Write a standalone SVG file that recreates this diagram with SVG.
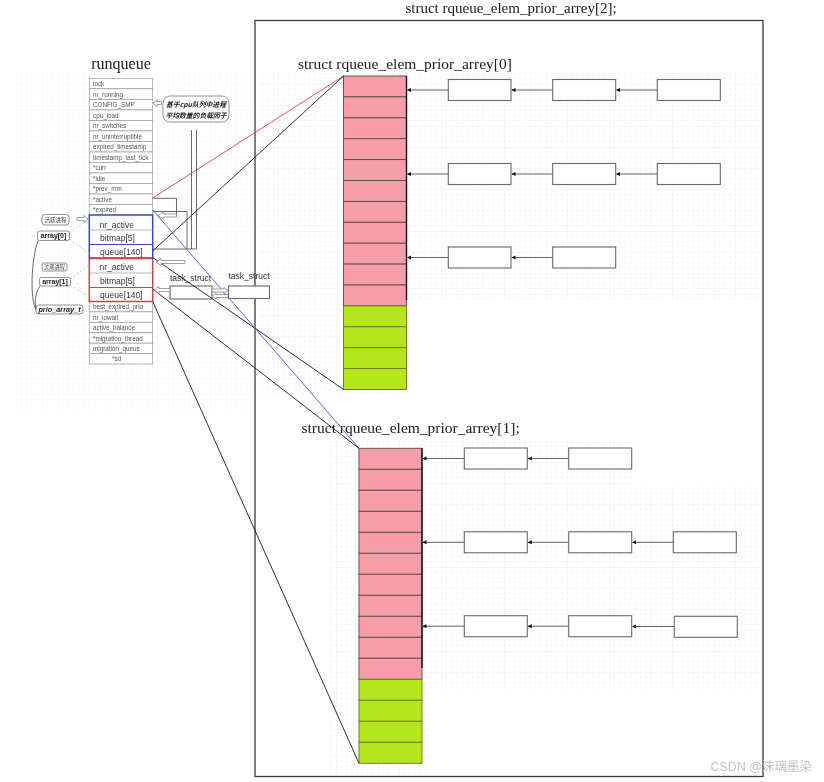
<svg xmlns="http://www.w3.org/2000/svg" width="824" height="782" viewBox="0 0 824 782">
<style>
.serif{font-family:"Liberation Serif","DejaVu Serif",serif;fill:#1a1a1a}
.row{font-family:"Liberation Sans",Arial,sans-serif;font-size:6.3px;fill:#555}
.big{font-family:"Liberation Sans",Arial,sans-serif;font-size:8.5px;fill:#333}
.cell{fill:#fff;stroke:#999;stroke-width:0.7}
.pink{fill:#f59ea8;stroke:#5a4a4c;stroke-width:0.9}
.green{fill:#b5e61d;stroke:#66781a;stroke-width:0.9}
.node{fill:#fff;stroke:#6a6a6a;stroke-width:1.1}
.chain{stroke:#555;stroke-width:0.9;fill:none;marker-end:url(#ah)}
.hollow{fill:#fff;stroke:#777;stroke-width:0.7}
.cjk{font-family:"Noto Sans CJK SC","Noto Sans",sans-serif}
.lbl{fill:#fff;stroke:#777;stroke-width:0.8}
.plain{stroke:#444;stroke-width:0.8;fill:none}
.dash{stroke:#aaa;stroke-width:0.6;fill:none;stroke-dasharray:2 2}
</style>
<defs>
<marker id="ah" viewBox="0 0 6 6" refX="5.5" refY="3" markerWidth="4.5" markerHeight="4.5" orient="auto">
<path d="M0,0 L6,3 L0,6 z" fill="#111"/>
</marker>
<pattern id="grid" width="21" height="21" patternUnits="userSpaceOnUse">
<path d="M0 0H21M0 0V21" stroke="#e2e2e2" stroke-width="0.7" fill="none"/>
<path d="M0 5.25H21M0 10.5H21M0 15.75H21M5.25 0V21M10.5 0V21M15.75 0V21" stroke="#f1f1f1" stroke-width="0.5" fill="none"/>
</pattern>
</defs>
<rect width="824" height="782" fill="#fff"/>
<!-- faint grid backgrounds -->
<g id="grid-bg" opacity="0.8">
<rect x="15" y="72" width="235" height="338" fill="url(#grid)" opacity="0.6"/>
<rect x="258" y="72" width="506" height="228" fill="url(#grid)"/>
<rect x="258" y="300" width="150" height="95" fill="url(#grid)"/>
<rect x="330" y="440" width="302" height="46" fill="url(#grid)"/>
<rect x="330" y="486" width="434" height="204" fill="url(#grid)"/>
<rect x="330" y="690" width="100" height="86" fill="url(#grid)"/>
</g>

<!-- main frame -->
<g id="frame">
<rect x="255" y="20.5" width="508" height="756" fill="none" stroke="#3a3a3a" stroke-width="1.3"/>
<text class="serif" x="511" y="13" font-size="15" text-anchor="middle">struct rqueue_elem_prior_arrey[2];</text>
</g>

<!-- runqueue -->
<g id="runqueue">
<text class="serif" x="121" y="68.5" font-size="16" text-anchor="middle">runqueue</text>
<rect class="cell" x="89.3" y="78.3" width="63.4" height="10.5"/>
<rect class="cell" x="89.3" y="88.8" width="63.4" height="10.5"/>
<rect class="cell" x="89.3" y="99.3" width="63.4" height="10.6"/>
<rect class="cell" x="89.3" y="109.9" width="63.4" height="10.5"/>
<rect class="cell" x="89.3" y="120.4" width="63.4" height="10.5"/>
<rect class="cell" x="89.3" y="130.9" width="63.4" height="10.5"/>
<rect class="cell" x="89.3" y="141.4" width="63.4" height="10.6"/>
<rect class="cell" x="89.3" y="152.0" width="63.4" height="10.5"/>
<rect class="cell" x="89.3" y="162.5" width="63.4" height="10.5"/>
<rect class="cell" x="89.3" y="173.0" width="63.4" height="10.5"/>
<rect class="cell" x="89.3" y="183.5" width="63.4" height="10.5"/>
<rect class="cell" x="89.3" y="194.0" width="63.4" height="10.5"/>
<rect class="cell" x="89.3" y="204.5" width="63.4" height="10.5"/>
<text class="row" x="93" y="86">lock</text>
<text class="row" x="93" y="96.5">nr_running</text>
<text class="row" x="93" y="107">CONFIG_SMP</text>
<text class="row" x="93" y="117.5">cpu_load</text>
<text class="row" x="93" y="128">nr_switches</text>
<text class="row" x="93" y="138.5">nr_uninterruptible</text>
<text class="row" x="93" y="149">expired_timestamp</text>
<text class="row" x="93" y="159.5">timestamp_last_tick</text>
<text class="row" x="93" y="170">*curr</text>
<text class="row" x="93" y="180.5">*idle</text>
<text class="row" x="93" y="191">*prev_mm</text>
<text class="row" x="93" y="201.5">*active</text>
<text class="row" x="93" y="212">*expired</text>
<!-- bottom rows -->
<rect class="cell" x="89.3" y="301.5" width="63.4" height="10.4"/>
<rect class="cell" x="89.3" y="311.9" width="63.4" height="10.4"/>
<rect class="cell" x="89.3" y="322.3" width="63.4" height="10.5"/>
<rect class="cell" x="89.3" y="332.8" width="63.4" height="10.4"/>
<rect class="cell" x="89.3" y="343.2" width="63.4" height="10.4"/>
<rect class="cell" x="89.3" y="353.6" width="63.4" height="10.4"/>
<text class="row" x="93" y="309.3">best_expired_prio</text>
<text class="row" x="93" y="319.7">nr_iowait</text>
<text class="row" x="93" y="330.2">active_balance</text>
<text class="row" x="93" y="340.6">*migration_thread</text>
<text class="row" x="93" y="351">migration_queue</text>
<text class="row" x="112" y="361.4">*sd</text>
</g>

<g id="array0-struct">
<rect x="89.3" y="215" width="63.4" height="43" fill="#fff" stroke="#3a48c8" stroke-width="1.5"/>
<line x1="89.3" y1="230" x2="152.7" y2="230" stroke="#999" stroke-width="0.7"/>
<line x1="89.3" y1="244.5" x2="152.7" y2="244.5" stroke="#3a48c8" stroke-width="1"/>
<text class="big" x="99.5" y="227.5">nr_active</text>
<text class="big" x="100" y="241">bitmap[5]</text>
<text class="big" x="100" y="254.5">queue[140]</text>
</g>
<g id="array1-struct">
<rect x="89.3" y="258.5" width="63.4" height="43" fill="#fff" stroke="#c04848" stroke-width="1.5"/>
<line x1="89.3" y1="273" x2="152.7" y2="273" stroke="#999" stroke-width="0.7"/>
<line x1="89.3" y1="287.5" x2="152.7" y2="287.5" stroke="#c04848" stroke-width="1"/>
<text class="big" x="99.5" y="270">nr_active</text>
<text class="big" x="100" y="284">bitmap[5]</text>
<text class="big" x="100" y="297.5">queue[140]</text>
</g>

<!-- callout -->
<g id="callout">
<rect class="lbl" x="163" y="96" width="66" height="26" rx="7"/>
<text class="cjk" x="196" y="106.5" font-size="6.8" font-weight="bold" font-style="italic" text-anchor="middle" fill="#222">基于cpu队列中进程</text>
<text class="cjk" x="196" y="117.5" font-size="6.8" font-weight="bold" font-style="italic" text-anchor="middle" fill="#222">平均数量的负载因子</text>
<polygon class="hollow" points="153,103 157,99.5 157,101.5 161.5,101.5 161.5,104.5 157,104.5 157,106.5"/>
</g>

<!-- left labels -->
<g id="labels-left">
<rect class="lbl" x="42" y="214.5" width="27" height="10.5" rx="3"/>
<text class="cjk" x="55.5" y="222" font-size="5.5" text-anchor="middle" fill="#333">活跃进程</text>
<rect class="lbl" x="37.5" y="231" width="32" height="9.5" rx="2"/>
<text x="53.5" y="238.4" font-family="Liberation Sans,Arial,sans-serif" font-size="7" font-weight="bold" text-anchor="middle" fill="#222">array[0]</text>
<rect class="lbl" x="42" y="263" width="25" height="8" rx="2"/>
<text class="cjk" x="54.5" y="269.3" font-size="5.2" text-anchor="middle" fill="#333">过期进程</text>
<rect class="lbl" x="39.5" y="277.5" width="31" height="8.5" rx="2"/>
<text x="55" y="284.3" font-family="Liberation Sans,Arial,sans-serif" font-size="7" font-weight="bold" text-anchor="middle" fill="#222">array[1]</text>
<rect class="lbl" x="36" y="305" width="47" height="9" rx="3"/>
<text x="59.5" y="312.2" font-family="Liberation Sans,Arial,sans-serif" font-size="7.3" font-weight="bold" font-style="italic" text-anchor="middle" fill="#222">prio_array_t</text>
<polygon class="hollow" points="88,219 84,215.5 84,217.5 77,217.5 77,220.5 84,220.5 84,222.5"/>
</g>

<!-- task structs -->
<g id="task-struct-1">
<text x="170" y="281" font-family="Liberation Sans,Arial,sans-serif" font-size="8.5" fill="#333">task_struct</text>
<rect class="node" x="170" y="286" width="42" height="13" stroke="#888"/>
</g>
<g id="task-struct-2">
<text x="228.5" y="278.5" font-family="Liberation Sans,Arial,sans-serif" font-size="8.5" fill="#333">task_struct</text>
<rect class="node" x="228.5" y="286" width="41" height="12.5" stroke="#888"/>
</g>

<!-- array[0] of rqueue -->
<g id="rqueue0">
<text class="serif" x="298" y="68.5" font-size="15.5">struct rqueue_elem_prior_arrey[0]</text>
<rect class="pink" x="343.5" y="76" width="63" height="20.9"/>
<rect class="pink" x="343.5" y="96.9" width="63" height="20.9"/>
<rect class="pink" x="343.5" y="117.8" width="63" height="20.9"/>
<rect class="pink" x="343.5" y="138.7" width="63" height="20.9"/>
<rect class="pink" x="343.5" y="159.6" width="63" height="20.9"/>
<rect class="pink" x="343.5" y="180.5" width="63" height="20.9"/>
<rect class="pink" x="343.5" y="201.4" width="63" height="20.9"/>
<rect class="pink" x="343.5" y="222.3" width="63" height="20.9"/>
<rect class="pink" x="343.5" y="243.2" width="63" height="20.9"/>
<rect class="pink" x="343.5" y="264.1" width="63" height="20.9"/>
<rect class="pink" x="343.5" y="285.0" width="63" height="20.9"/>
<rect class="green" x="343.5" y="305.9" width="63" height="20.9"/>
<rect class="green" x="343.5" y="326.8" width="63" height="20.9"/>
<rect class="green" x="343.5" y="347.7" width="63" height="20.9"/>
<rect class="green" x="343.5" y="368.6" width="63" height="20.9"/>
<line x1="406.5" y1="76" x2="406.5" y2="300" stroke="#111" stroke-width="1.4"/>
</g>
<g id="q0-r1-n1"><rect class="node" x="448.3" y="79.5" width="62.7" height="21"/></g>
<g id="q0-r1-n2"><rect class="node" x="552.7" y="79.5" width="63" height="21"/></g>
<g id="q0-r1-n3"><rect class="node" x="657.3" y="79.5" width="63" height="21"/></g>
<g id="q0-r2-n1"><rect class="node" x="448.3" y="163.5" width="62.7" height="21"/></g>
<g id="q0-r2-n2"><rect class="node" x="552.7" y="163.5" width="63" height="21"/></g>
<g id="q0-r2-n3"><rect class="node" x="657.3" y="163.5" width="63" height="21"/></g>
<g id="q0-r3-n1"><rect class="node" x="448.3" y="247" width="62.7" height="21"/></g>
<g id="q0-r3-n2"><rect class="node" x="552.7" y="247" width="63" height="21"/></g>

<!-- array[1] of rqueue -->
<g id="rqueue1">
<text class="serif" x="301.5" y="432.8" font-size="15.5">struct rqueue_elem_prior_arrey[1];</text>
<rect class="pink" x="359" y="448.3" width="63" height="21"/>
<rect class="pink" x="359" y="469.3" width="63" height="21"/>
<rect class="pink" x="359" y="490.3" width="63" height="21"/>
<rect class="pink" x="359" y="511.3" width="63" height="21"/>
<rect class="pink" x="359" y="532.3" width="63" height="21"/>
<rect class="pink" x="359" y="553.3" width="63" height="21"/>
<rect class="pink" x="359" y="574.3" width="63" height="21"/>
<rect class="pink" x="359" y="595.3" width="63" height="21"/>
<rect class="pink" x="359" y="616.3" width="63" height="21"/>
<rect class="pink" x="359" y="637.3" width="63" height="21"/>
<rect class="pink" x="359" y="658.3" width="63" height="21"/>
<rect class="green" x="359" y="679.3" width="63" height="21"/>
<rect class="green" x="359" y="700.3" width="63" height="21"/>
<rect class="green" x="359" y="721.3" width="63" height="21"/>
<rect class="green" x="359" y="742.3" width="63" height="21"/>
<line x1="422" y1="448.3" x2="422" y2="668" stroke="#111" stroke-width="1.4"/>
</g>
<g id="q1-r1-n1"><rect class="node" x="464.3" y="448" width="63" height="21"/></g>
<g id="q1-r1-n2"><rect class="node" x="568.7" y="448" width="63" height="21"/></g>
<g id="q1-r2-n1"><rect class="node" x="464.3" y="531.8" width="63" height="21"/></g>
<g id="q1-r2-n2"><rect class="node" x="568.7" y="531.8" width="63" height="21"/></g>
<g id="q1-r2-n3"><rect class="node" x="673.3" y="531.8" width="63" height="21"/></g>
<g id="q1-r3-n1"><rect class="node" x="464.3" y="615.7" width="63" height="21"/></g>
<g id="q1-r3-n2"><rect class="node" x="568.7" y="615.7" width="63" height="21"/></g>
<g id="q1-r3-n3"><rect class="node" x="674.3" y="616.3" width="63" height="21"/></g>

<!-- connectors -->
<g id="connectors">
<!-- chain arrows rqueue0 -->
<line class="chain" x1="448.3" y1="90" x2="407.3" y2="90"/>
<line class="chain" x1="552.7" y1="90" x2="511.8" y2="90"/>
<line class="chain" x1="657.3" y1="90" x2="616.5" y2="90"/>
<line class="chain" x1="448.3" y1="174" x2="407.3" y2="174"/>
<line class="chain" x1="552.7" y1="174" x2="511.8" y2="174"/>
<line class="chain" x1="657.3" y1="174" x2="616.5" y2="174"/>
<line class="chain" x1="448.3" y1="257.5" x2="407.3" y2="257.5"/>
<line class="chain" x1="552.7" y1="257.5" x2="511.8" y2="257.5"/>
<!-- chain arrows rqueue1 -->
<line class="chain" x1="464.3" y1="458.5" x2="422.8" y2="458.5"/>
<line class="chain" x1="568.7" y1="458.5" x2="528.1" y2="458.5"/>
<line class="chain" x1="464.3" y1="542.3" x2="422.8" y2="542.3"/>
<line class="chain" x1="568.7" y1="542.3" x2="528.1" y2="542.3"/>
<line class="chain" x1="673.3" y1="542.3" x2="632.5" y2="542.3"/>
<line class="chain" x1="464.3" y1="626.2" x2="422.8" y2="626.2"/>
<line class="chain" x1="568.7" y1="626.2" x2="528.1" y2="626.2"/>
<line class="chain" x1="674.3" y1="626.5" x2="632.5" y2="626.5"/>

<!-- projection lines -->
<line x1="152.7" y1="198" x2="343.5" y2="76" stroke="#e8404a" stroke-width="0.9"/>
<line x1="152.7" y1="251" x2="343.5" y2="76" stroke="#1a1a1a" stroke-width="0.9"/>
<line x1="152.7" y1="257.5" x2="343.5" y2="389.5" stroke="#1a1a1a" stroke-width="0.9"/>
<line x1="152.7" y1="210" x2="359" y2="448.3" stroke="#4a55e0" stroke-width="0.9"/>
<line x1="152.7" y1="289" x2="359" y2="448.3" stroke="#1a1a1a" stroke-width="0.9"/>
<line x1="152.7" y1="301.5" x2="359" y2="763.3" stroke="#1a1a1a" stroke-width="0.9"/>

<!-- pointer lines near runqueue -->
<polyline class="plain" points="152.7,198.3 176.5,198.3 176.5,215.5 168,215.5"/>
<polygon class="hollow" points="158,215.5 163,212 163,214 176.5,214 176.5,217 163,217 163,219"/>
<polyline class="plain" points="152.7,211.5 187,211.5 187,248.5"/>
<line class="plain" x1="191.5" y1="130" x2="191.5" y2="249" stroke="#666"/>
<line class="plain" x1="196.5" y1="130" x2="196.5" y2="249" stroke="#666"/>
<line class="plain" x1="152.7" y1="249" x2="196.5" y2="249"/>
<polygon class="hollow" points="156,262 161,258.5 161,260.5 185,260.5 185,263.5 161,263.5 161,265.5"/>
<polygon class="hollow" points="154,290 159,286.5 159,288.5 170,288.5 170,291.5 159,291.5 159,293.5"/>
<polygon class="hollow" points="228,290.5 224,287.5 224,289 212,289 212,292 224,292 224,293.5"/>
<polygon class="hollow" points="212,296 216,293 216,294.5 228,294.5 228,297.5 216,297.5 216,299"/>

<!-- left label pointers -->
<line class="dash" x1="69.5" y1="233" x2="84" y2="222"/>
<line class="dash" x1="69.5" y1="239" x2="90" y2="254"/>
<line class="dash" x1="70.5" y1="279" x2="88" y2="266"/>
<line class="dash" x1="70.5" y1="285" x2="92" y2="299"/>
<path class="plain" d="M36,309.5 C30,300 31,260 38,240.5" stroke="#666" stroke-width="0.7"/>
<path class="plain" d="M36,309.5 C34,300 36,292 40,286" stroke="#666" stroke-width="0.7"/>
</g>

<text x="812" y="771" font-family="Liberation Sans,'Noto Sans CJK SC',sans-serif" font-size="12.5" fill="#c4c4c4" text-anchor="end">CSDN @沫璃墨染</text>
</svg>
